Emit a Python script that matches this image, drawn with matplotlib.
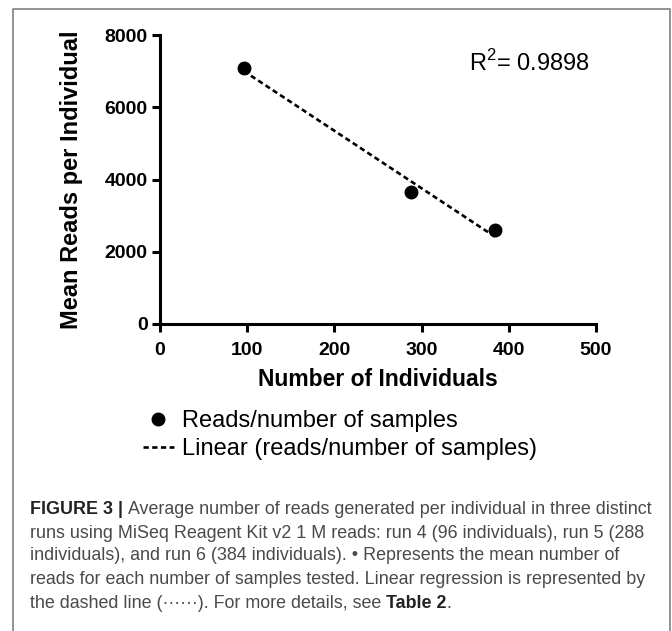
import matplotlib
matplotlib.use("Agg")
import matplotlib.pyplot as plt
import numpy as np
from matplotlib.lines import Line2D

individuals = [96, 288, 384]
mean_reads = [7100, 3660, 2610]
x_ticks = [0, 100, 200, 300, 400, 500]
y_ticks = [0, 2000, 4000, 6000, 8000]
r2_label = r"R$^{\mathregular{2}}$= 0.9898"
legend_labels = ["Reads/number of samples", "Linear (reads/number of samples)"]

caption_lines = [
    [("FIGURE 3 | ", "bold"), ("Average number of reads generated per individual in three distinct", "normal")],
    [("runs using MiSeq Reagent Kit v2 1 M reads: run 4 (96 individuals), run 5 (288", "normal")],
    [("individuals), and run 6 (384 individuals). \u2022 Represents the mean number of", "normal")],
    [("reads for each number of samples tested. Linear regression is represented by", "normal")],
    [("the dashed line (\u00b7\u00b7\u00b7\u00b7\u00b7\u00b7). For more details, see ", "normal"), ("Table 2", "bold"), (".", "normal")],
]

plt.rcParams["font.family"] = ["Liberation Sans", "DejaVu Sans"]
plt.rcParams["mathtext.fontset"] = "custom"
plt.rcParams["mathtext.rm"] = "Liberation Sans"

W, H = 672, 631
fig = plt.figure(figsize=(W / 100, H / 100), dpi=100)

# frame around the figure (open at the bottom, like the cropped page)
fig.add_artist(Line2D([13 / W, 13 / W, 670 / W, 670 / W], [0, 1 - 9 / H, 1 - 9 / H, 0],
                      color="#808080", lw=1.2, transform=fig.transFigure))

ax = fig.add_axes([160 / W, (H - 324) / H, 436 / W, 289 / H])

dash = (0, (2.0, 1.3))
# regression line
slope, intercept = np.polyfit(individuals, mean_reads, 1)
xs = np.array([min(individuals), max(individuals)])
ax.plot(xs, slope * xs + intercept, color="black", lw=1.9, linestyle=dash, zorder=2)
ax.plot(individuals, mean_reads, "o", color="black", ms=9, zorder=3, clip_on=False)

ax.set_xlim(0, 500)
ax.set_ylim(0, 8000)
ax.set_xticks(x_ticks)
ax.set_yticks(y_ticks)
for s in ["top", "right"]:
    ax.spines[s].set_visible(False)
for s in ["left", "bottom"]:
    ax.spines[s].set_linewidth(2.2)
ax.tick_params(direction="out", length=6, width=2.2, labelsize=14)
ax.tick_params(axis="x", pad=7)
ax.tick_params(axis="y", pad=3)
for lab in ax.get_xticklabels() + ax.get_yticklabels():
    lab.set_fontweight("bold")

ax.set_xlabel("Number of Individuals", fontsize=16.5, fontweight="bold", va="center")
ax.xaxis.set_label_coords(0.5, (324 - 380) / 289)
ax.set_ylabel("Mean Reads per Individual", fontsize=17, fontweight="bold", va="center")
ax.yaxis.set_label_coords((72 - 160) / 436, 0.5)

fig.text(469 / W, 1 - 63 / H, r2_label, fontsize=17, ha="left", va="center")

handles = [
    Line2D([], [], marker="o", color="black", ms=9, linestyle="none"),
    Line2D([], [], color="black", lw=1.9, linestyle=dash),
]
fig.legend(handles, legend_labels, loc="center left", bbox_to_anchor=(143 / W, 1 - 435 / H),
           frameon=False, fontsize=17, handlelength=1.3, handletextpad=0.35,
           labelspacing=0.25, borderpad=0, borderaxespad=0)

# caption, drawn segment by segment so bold parts sit inline
renderer = fig.canvas.get_renderer()
line_y = [509, 533, 556, 579, 603]
for segs, yy in zip(caption_lines, line_y):
    x = 30
    for txt, wt in segs:
        t = fig.text(x / W, 1 - yy / H, txt, fontsize=12.9, fontweight=wt,
                     color="#222222" if wt == "bold" else "#4a4a4a", ha="left", va="center")
        x += t.get_window_extent(renderer).width

fig.savefig("out.png", dpi=100)
